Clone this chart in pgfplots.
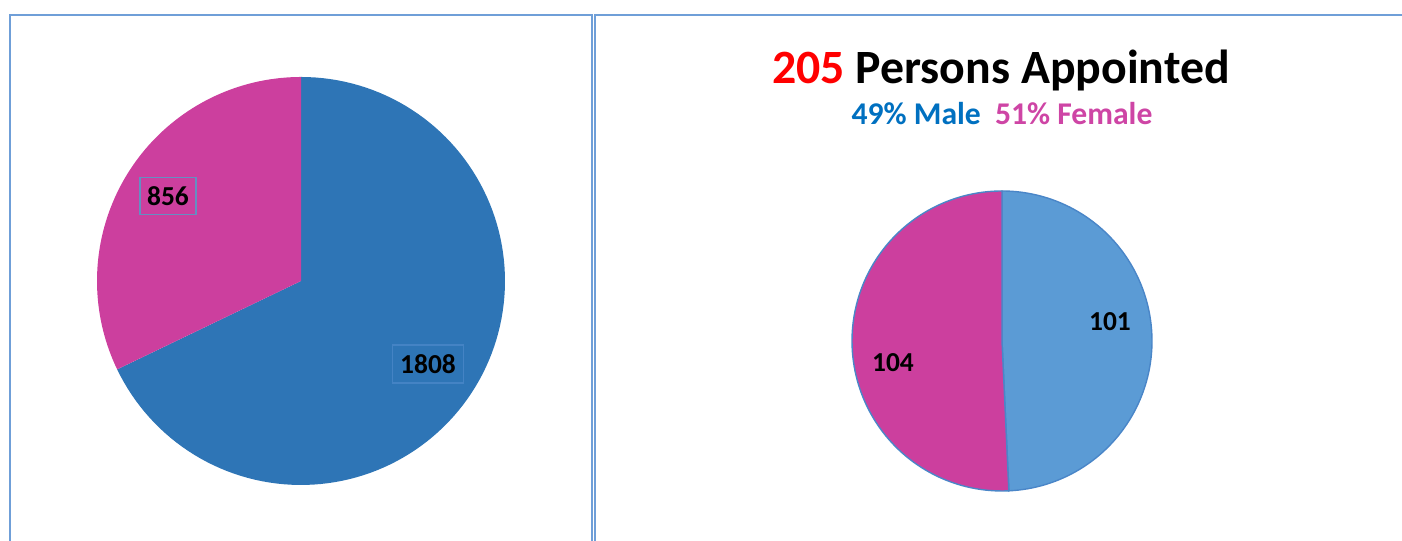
\documentclass[border=0pt]{standalone}
\usepackage{pgfplots}
\pgfplotsset{compat=1.18}
\usepackage{fontspec}
\setmainfont{Carlito}
\definecolor{lblue}{HTML}{2E75B6}
\definecolor{rblue}{HTML}{5B9BD5}
\definecolor{pinkc}{HTML}{CC3F9E}
\definecolor{frame}{HTML}{6F9FD8}
\definecolor{subblue}{HTML}{0070C0}
\definecolor{subpink}{HTML}{CE45A5}
\definecolor{edgeblue}{HTML}{4A86C8}
% data
\def\LMale{1808}
\def\LFemale{856}
\def\RMale{101}
\def\RFemale{104}
\pgfmathsetmacro{\LA}{360*(\LMale/(\LMale+\LFemale))}
\pgfmathsetmacro{\LB}{360*(\LFemale/(\LMale+\LFemale))}
\pgfmathsetmacro{\RA}{360*(\RMale/(\RMale+\RFemale))}
\pgfmathsetmacro{\RB}{360*(\RFemale/(\RMale+\RFemale))}
\pgfmathsetmacro{\LAs}{90-\LA}
\pgfmathsetmacro{\LBe}{90+\LB}
\pgfmathsetmacro{\RAs}{90-\RA}
\pgfmathsetmacro{\RBe}{90+\RB}
\begin{document}
\begin{tikzpicture}
\useasboundingbox (0,0) rectangle (14.02cm,5.41cm);
\begin{axis}[
  at={(0,0)}, anchor=south west,
  scale only axis, width=14.02cm, height=5.41cm,
  xmin=0, xmax=1402, ymin=0, ymax=541,
  hide axis, clip=false,
]
% panel frames
\draw[frame, line width=0.7pt] (10,-5) -- (10,526) -- (592,526) -- (592,-5);
\draw[frame, line width=0.7pt] (595,-5) -- (595,526) -- (1410,526);
% left pie
\addplot[fill=lblue, draw=none, domain=\LAs:90, samples=120, variable=\t]
  ({301+204*cos(t)},{260+204*sin(t)}) -- (301,260) -- cycle;
\addplot[fill=pinkc, draw=none, domain=90:\LBe, samples=80, variable=\t]
  ({301+204*cos(t)},{260+204*sin(t)}) -- (301,260) -- cycle;
% right pie
\addplot[fill=rblue, draw=edgeblue, line width=0.4pt, domain=\RAs:90, samples=100, variable=\t]
  ({1002+150*cos(t)},{200+150*sin(t)}) -- (1002,200) -- cycle;
\addplot[fill=pinkc, draw=edgeblue, line width=0.4pt, domain=90:\RBe, samples=100, variable=\t]
  ({1002+150*cos(t)},{200+150*sin(t)}) -- (1002,200) -- cycle;
% labels
\node[draw=frame!90!black, line width=0.5pt, minimum width=0.56cm, minimum height=0.37cm, inner sep=0pt, font=\bfseries\fontsize{7.8}{9}\selectfont] at (168,345) {\LFemale};
\node[draw=edgeblue!80!lblue, line width=0.5pt, minimum width=0.71cm, minimum height=0.38cm, inner sep=0pt, font=\bfseries\fontsize{7.8}{9}\selectfont] at (428,177) {\LMale};
\node[font=\bfseries\fontsize{7.8}{9}\selectfont] at (1110,219) {\RMale};
\node[font=\bfseries\fontsize{7.8}{9}\selectfont] at (893,178) {\RFemale};
% titles
\node[anchor=base, font=\bfseries\fontsize{13.6}{16}\selectfont] at (1001,457) {\textcolor{red}{205} Persons Appointed};
\node[anchor=base, font=\bfseries\fontsize{9}{11}\selectfont] at (1002,416) {\textcolor{subblue}{49\% Male}\ \ \textcolor{subpink}{51\% Female}};
\end{axis}
\end{tikzpicture}
\end{document}
